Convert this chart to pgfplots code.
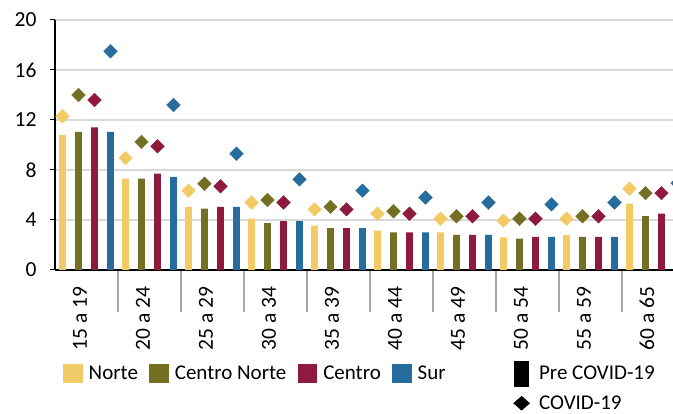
\documentclass[border=0pt]{standalone}
\usepackage{pgfplots}
\pgfplotsset{compat=1.18}
\usepackage{pgfplotstable}
\usepackage{fontspec}
\setmainfont{Carlito}
\definecolor{norte}{RGB}{242,202,102}
\definecolor{cnorte}{RGB}{115,112,36}
\definecolor{centro}{RGB}{142,27,61}
\definecolor{sur}{RGB}{38,108,157}
\definecolor{gridc}{RGB}{217,217,217}
\definecolor{sepc}{RGB}{166,166,166}

% x: age group index; pre = Pre COVID-19 (bars), cov = COVID-19 (diamonds)
\pgfplotstableread{
x  npre  cnpre cpre  spre  ncov  cncov ccov  scov
0  10.8  11.05 11.4  11.05 12.3  14.0  13.6  17.5
1  7.3   7.3   7.7   7.45  8.95  10.25 9.9   13.2
2  5.05  4.9   5.05  5.05  6.35  6.9   6.7   9.3
3  4.1   3.75  3.9   3.9   5.4   5.6   5.4   7.25
4  3.55  3.35  3.35  3.35  4.85  5.05  4.85  6.35
5  3.15  3.0   3.0   3.0   4.5   4.7   4.5   5.8
6  3.0   2.8   2.8   2.8   4.1   4.3   4.3   5.4
7  2.6   2.5   2.65  2.65  3.95  4.1   4.1   5.25
8  2.8   2.65  2.65  2.65  4.1   4.3   4.3   5.4
9  5.3   4.3   4.5   4.4   6.5   6.15  6.15  6.95
}\data

\begin{document}
\begin{tikzpicture}
\useasboundingbox (0,0) rectangle (673pt,414pt);
\begin{axis}[
  at={(55pt,144pt)}, anchor=south west,
  scale only axis, width=630pt, height=250pt,
  xmin=-0.5, xmax=9.5, ymin=0, ymax=20,
  axis x line*=bottom, axis y line*=left,
  axis line style={line width=1.5pt, black, -},
  ytick={0,4,...,20},
  xtick={0,...,9},
  xticklabels={15 a 19,20 a 24,25 a 29,30 a 34,35 a 39,40 a 44,45 a 49,50 a 54,55 a 59,60 a 65},
  minor xtick={0.5,1.5,...,9.5},
  tick align=outside,
  major tick length=5pt,
  minor tick length=42pt,
  every major x tick/.style={draw=none},
  every minor x tick/.style={draw=sepc, line width=1.2pt},
  every major y tick/.style={draw=black, line width=1pt},
  ymajorgrids,
  major grid style={draw=gridc, line width=1.5pt},
  tick label style={font=\fontsize{21.5}{25}\selectfont},
  /pgf/number format/assume math mode=true,
  xticklabel style={xshift=-6.5pt, yshift=-8pt, rotate=90, anchor=east},
  yticklabel style={xshift=-10pt},
  legend columns=5,
  legend cell align=left,
  legend style={draw=none, fill=none, inner sep=0pt, outer sep=0pt,
    at={(0.0132,-0.364)}, anchor=north west,
    column sep=6.5pt, row sep=9.7pt,
    font=\fontsize{21}{25}\selectfont,
    nodes={inner sep=0pt},
    /tikz/every even column/.append style={column sep=11.5pt},
    /tikz/row 1 column 8/.append style={column sep=66pt}},
]
\addplot[ybar, bar width=6.7pt, bar shift=-24pt, fill=norte, draw=none, forget plot] table[x=x, y=npre] {\data};
\addplot[ybar, bar width=6.7pt, bar shift=-8pt, fill=cnorte, draw=none, forget plot] table[x=x, y=cnpre] {\data};
\addplot[ybar, bar width=6.7pt, bar shift=8pt, fill=centro, draw=none, forget plot] table[x=x, y=cpre] {\data};
\addplot[ybar, bar width=6.7pt, bar shift=24pt, fill=sur, draw=none, forget plot] table[x=x, y=spre] {\data};

\addplot[only marks, mark=square*, mark size=4.8pt, mark options={rotate=45, fill=norte, draw=norte}, forget plot] table[x expr=\thisrow{x}-0.381, y=ncov] {\data};
\addplot[only marks, mark=square*, mark size=4.8pt, mark options={rotate=45, fill=cnorte, draw=cnorte}, forget plot] table[x expr=\thisrow{x}-0.127, y=cncov] {\data};
\addplot[only marks, mark=square*, mark size=4.8pt, mark options={rotate=45, fill=centro, draw=centro}, forget plot] table[x expr=\thisrow{x}+0.127, y=ccov] {\data};
\addplot[only marks, mark=square*, mark size=4.8pt, mark options={rotate=45, fill=sur, draw=sur}, forget plot] table[x expr=\thisrow{x}+0.381, y=scov] {\data};

\addlegendimage{legend image code/.code={\fill[norte] (0pt,-9.2pt) rectangle (18.5pt,9.2pt);}}
\addlegendentry{Norte}
\addlegendimage{legend image code/.code={\fill[cnorte] (0pt,-9.2pt) rectangle (18.5pt,9.2pt);}}
\addlegendentry{Centro Norte}
\addlegendimage{legend image code/.code={\fill[centro] (0pt,-9.2pt) rectangle (18.5pt,9.2pt);}}
\addlegendentry{Centro}
\addlegendimage{legend image code/.code={\fill[sur] (0pt,-9.2pt) rectangle (18.5pt,9.2pt);}}
\addlegendentry{Sur}
\addlegendimage{legend image code/.code={\fill[black] (2pt,-12.3pt) rectangle (16.4pt,12.3pt); \path (0pt,0pt) (20.5pt,0pt);}}
\addlegendentry{Pre COVID-19}
\addlegendimage{empty legend}\addlegendentry{}
\addlegendimage{empty legend}\addlegendentry{}
\addlegendimage{empty legend}\addlegendentry{}
\addlegendimage{empty legend}\addlegendentry{}
\addlegendimage{legend image code/.code={\fill[black] (9.7pt,-7pt) -- (17.7pt,0pt) -- (9.7pt,7pt) -- (1.7pt,0pt) -- cycle; \path (0pt,0pt) (20.5pt,0pt);}}
\addlegendentry{COVID-19}
\end{axis}
\end{tikzpicture}
\end{document}
